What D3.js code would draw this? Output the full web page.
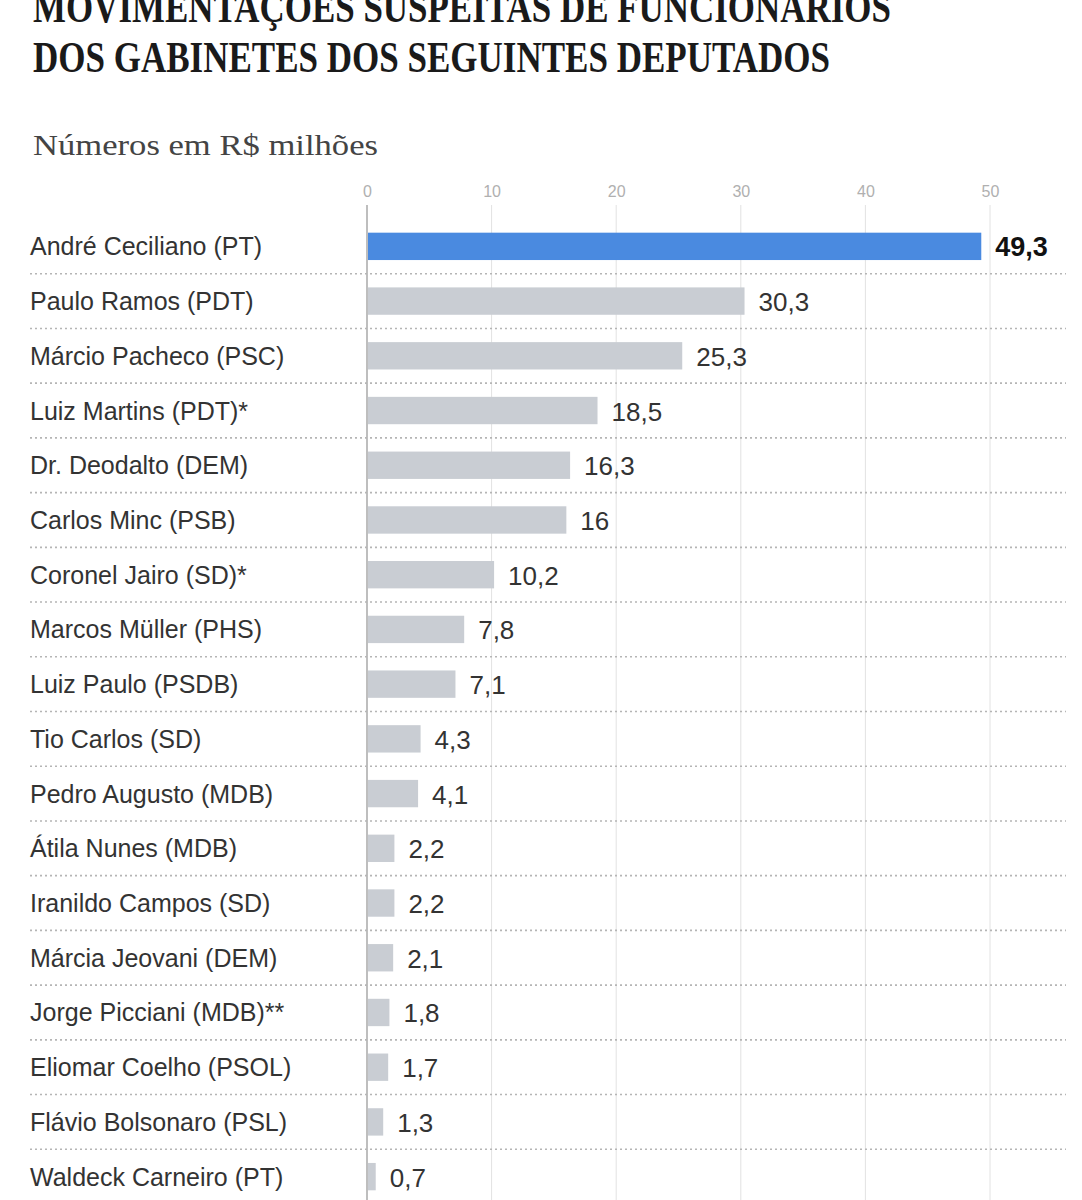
<!DOCTYPE html>
<html>
<head>
<meta charset="utf-8">
<script src="https://cdn.jsdelivr.net/npm/d3@7"></script>
<style>
  body { margin: 0; background: #fff; }
</style>
</head>
<body>
<div id="chart"></div>
<script>
const deputados = [
  'André Ceciliano (PT)', 'Paulo Ramos (PDT)', 'Márcio Pacheco (PSC)', 'Luiz Martins (PDT)*',
  'Dr. Deodalto (DEM)', 'Carlos Minc (PSB)', 'Coronel Jairo (SD)*', 'Marcos Müller (PHS)',
  'Luiz Paulo (PSDB)', 'Tio Carlos (SD)', 'Pedro Augusto (MDB)', 'Átila Nunes (MDB)',
  'Iranildo Campos (SD)', 'Márcia Jeovani (DEM)', 'Jorge Picciani (MDB)**', 'Eliomar Coelho (PSOL)',
  'Flávio Bolsonaro (PSL)', 'Waldeck Carneiro (PT)'
];
const valores = [49.3, 30.3, 25.3, 18.5, 16.3, 16, 10.2, 7.8, 7.1, 4.3, 4.1, 2.2, 2.2, 2.1, 1.8, 1.7, 1.3, 0.7];
const ticks = [0, 10, 20, 30, 40, 50];
const titulo = ['MOVIMENTAÇÕES SUSPEITAS DE FUNCIONÁRIOS', 'DOS GABINETES DOS SEGUINTES DEPUTADOS'];
const subtitulo = 'Números em R$ milhões';

const W = 1082, H = 1200;
const data = deputados.map((nome, i) => ({ nome, valor: valores[i] }));
const fmt = v => String(v).replace('.', ',');

const svg = d3.select('#chart').append('svg')
    .attr('width', W)
    .attr('height', H);

const x = d3.scaleLinear().domain([0, 50]).range([367, 990]);
const y = d3.scaleBand().domain(deputados).range([219, 1204]).paddingInner(0.5).paddingOuter(0.25);
const step = y.step();

// titulo (a primeira linha aparece cortada no topo, como no original)
svg.append('g').selectAll('text')
    .data(titulo)
  .enter().append('text')
    .attr('x', 33)
    .attr('y', (d, i) => 22 + i * 50)
    .attr('textLength', (d, i) => i === 0 ? 858 : 797)
    .attr('lengthAdjust', 'spacingAndGlyphs')
    .style('font-family', '"Liberation Serif", serif')
    .style('font-weight', 700)
    .style('font-size', '45px')
    .attr('fill', '#1a1a1a')
    .text(d => d);

svg.append('text')
    .attr('x', 33)
    .attr('y', 155)
    .attr('textLength', 345)
    .attr('lengthAdjust', 'spacingAndGlyphs')
    .style('font-family', '"Liberation Serif", serif')
    .style('font-size', '30px')
    .attr('fill', '#444')
    .text(subtitulo);

// grade vertical
svg.append('g').selectAll('line')
    .data(ticks)
  .enter().append('line')
    .attr('x1', d => x(d)).attr('x2', d => x(d))
    .attr('y1', 205).attr('y2', H)
    .attr('stroke', d => d === 0 ? '#a8a8a8' : '#e2e2e2')
    .attr('stroke-width', d => d === 0 ? 1.5 : 1);

// eixo
const axis = svg.append('g')
    .attr('transform', 'translate(0,197)')
    .call(d3.axisTop(x).tickValues(ticks).tickSize(0).tickPadding(0));
axis.select('.domain').remove();
axis.selectAll('text')
    .style('font-family', '"Liberation Sans Narrow", "Liberation Sans", sans-serif')
    .style('font-size', '16px')
    .attr('fill', '#b0b0b0');

// separadores pontilhados
svg.append('g').selectAll('line')
    .data(deputados)
  .enter().append('line')
    .attr('x1', 30).attr('x2', 1066)
    .attr('y1', d => y(d) + y.bandwidth() / 2 + step / 2)
    .attr('y2', d => y(d) + y.bandwidth() / 2 + step / 2)
    .attr('stroke', '#b5b5b5')
    .attr('stroke-width', 1.6)
    .attr('stroke-dasharray', '2,3');

// barras
svg.append('g').selectAll('rect')
    .data(data)
  .enter().append('rect')
    .attr('x', x(0) + 1)
    .attr('y', d => y(d.nome))
    .attr('width', d => x(d.valor) - x(0) - 1)
    .attr('height', y.bandwidth())
    .attr('fill', (d, i) => i === 0 ? '#4a8ae0' : '#c9cdd3');

// nomes
svg.append('g').selectAll('text')
    .data(data)
  .enter().append('text')
    .attr('x', 30)
    .attr('y', d => y(d.nome) + y.bandwidth() / 2 + 9)
    .style('font-family', '"Liberation Sans", Arial, sans-serif')
    .style('font-size', '25px')
    .attr('fill', '#333')
    .text(d => d.nome);

// valores
svg.append('g').selectAll('text')
    .data(data)
  .enter().append('text')
    .attr('x', d => x(d.valor) + 14)
    .attr('y', d => y(d.nome) + y.bandwidth() / 2 + 10)
    .style('font-family', '"Liberation Sans", Arial, sans-serif')
    .style('font-size', (d, i) => i === 0 ? '27px' : '26px')
    .style('font-weight', (d, i) => i === 0 ? 700 : 400)
    .attr('fill', (d, i) => i === 0 ? '#111' : '#333')
    .text(d => fmt(d.valor));
</script>
</body>
</html>
